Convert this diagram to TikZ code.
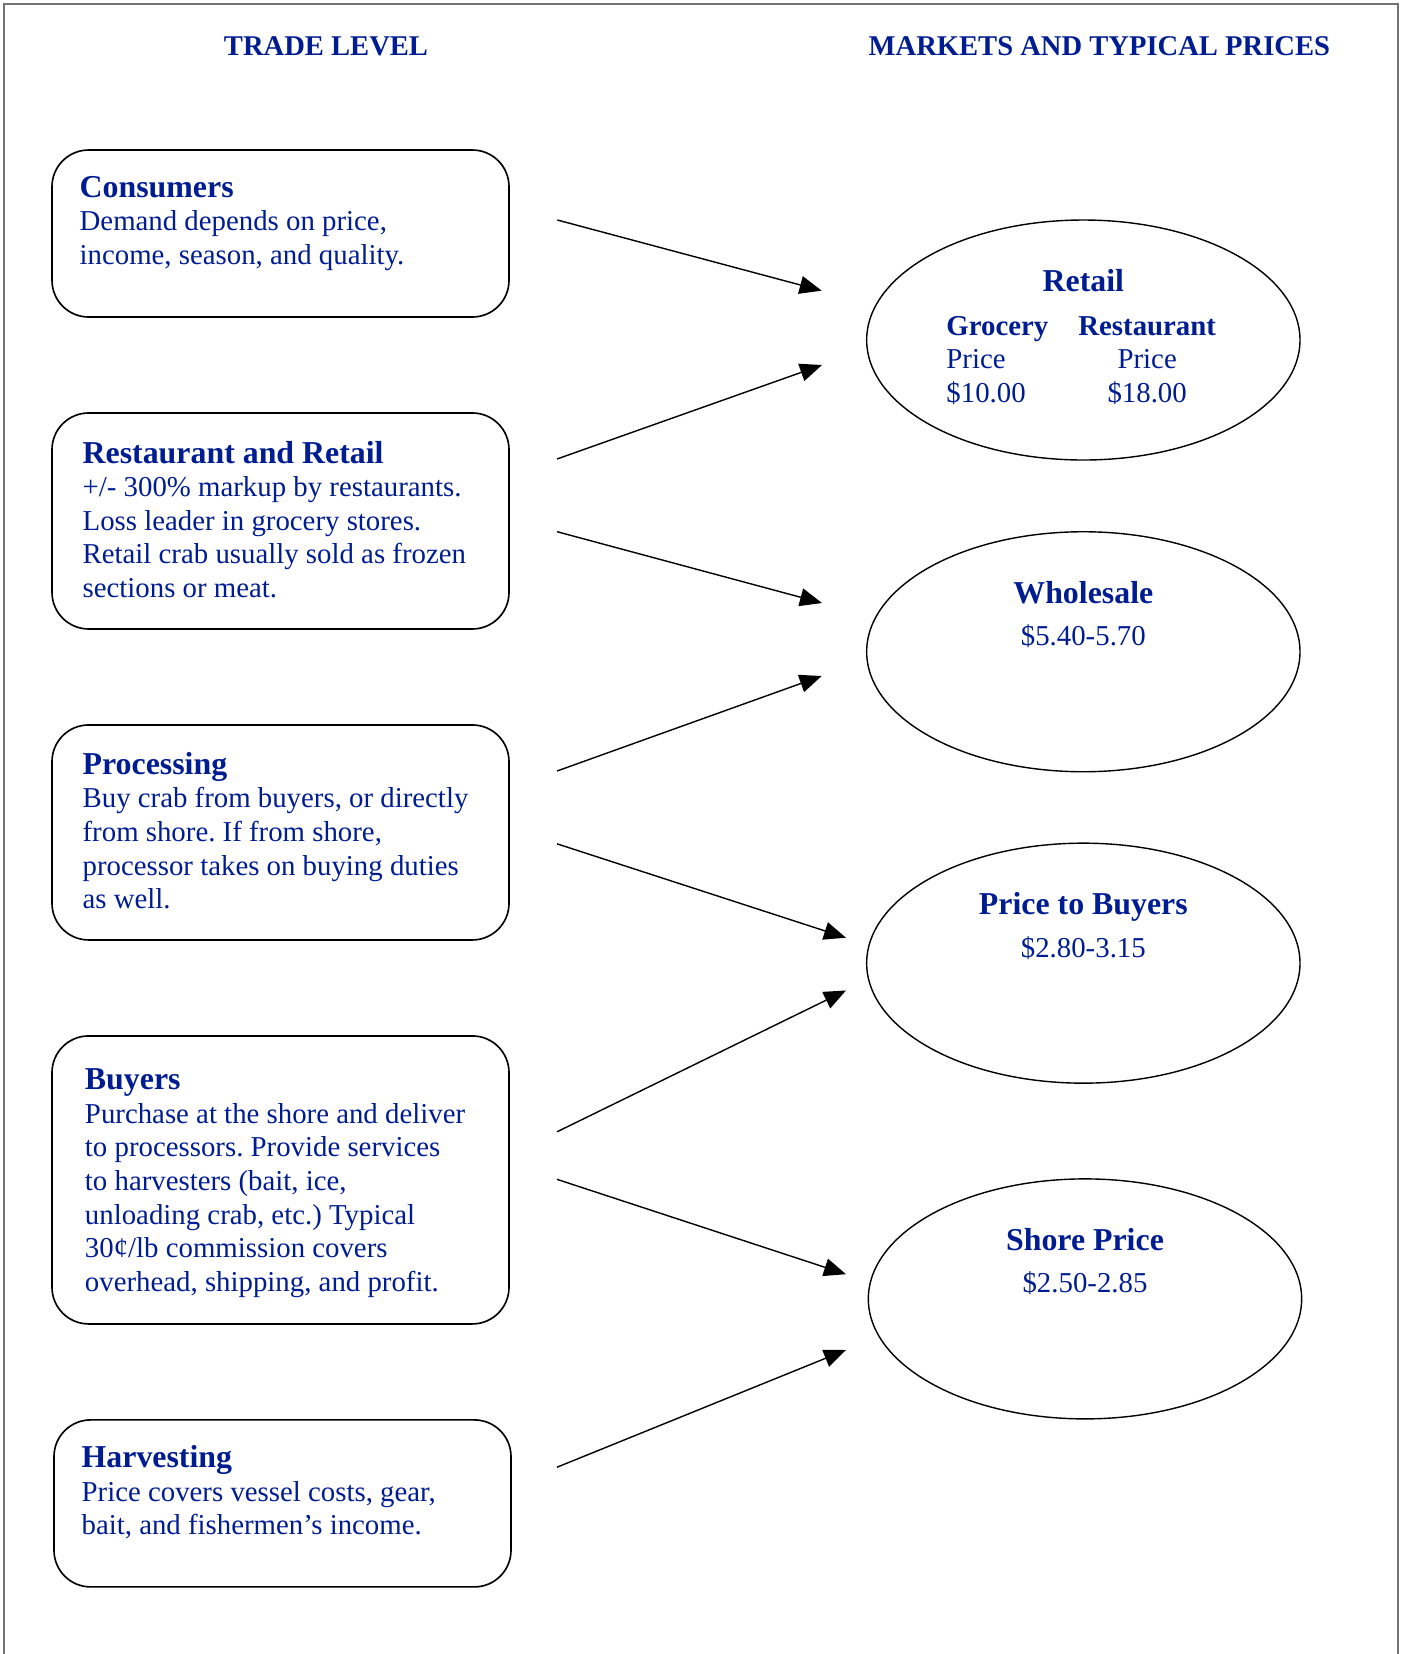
\documentclass[tikz,border=0pt]{standalone}
\usepackage{fontspec}
\setmainfont{Liberation Serif}
\usetikzlibrary{shapes.geometric, arrows.meta, positioning, calc}
\definecolor{cblue}{RGB}{0,28,145}
\definecolor{cframe}{gray}{0.45}
\newcommand{\hdfont}{\fontsize{13.6}{14.33}\selectfont\bfseries}
\frenchspacing

\begin{document}
\begin{tikzpicture}[
    every node/.style={font=\fontsize{12.3}{14.33}\selectfont},
    tbox/.style={draw, rounded corners=0.55cm, minimum width=6.855cm, line width=0.7pt},
    mkt/.style={draw, ellipse, minimum width=6.5cm, minimum height=3.6cm, line width=0.6pt},
    lbl/.style={inner sep=0pt, text=cblue},
    txt/.style={lbl, align=left},
    arr/.style={-{Triangle[length=0.33cm, width=0.27cm]}, line width=0.6pt}
]
\useasboundingbox (0,0) rectangle (21.06,-24.81);
\draw[cframe, line width=0.8pt] (0.06,-24.81) -- (0.06,-0.06) -- (20.97,-0.06) -- (20.97,-24.81);

%% Column titles
\node[lbl, font=\fontsize{12.2}{14.33}\selectfont\bfseries, anchor=base] (tlevel) at (4.89,-0.837) {TRADE LEVEL};
\node[lbl, font=\fontsize{12.2}{14.33}\selectfont\bfseries, anchor=base] (mprices) at (16.49,-0.837) {MARKETS AND TYPICAL PRICES};

%% Trade level boxes
\node[tbox, minimum height=2.505cm] (cons) at (4.2075,-3.5025) {};
\node[tbox, minimum height=3.24cm, below=1.415cm of cons] (rest) {};
\node[tbox, minimum height=3.225cm, below=1.415cm of rest] (proc) {};
\node[tbox, minimum height=4.32cm, below=1.415cm of proc] (buy) {};
\node[tbox, minimum height=2.505cm, below=1.415cm of buy, xshift=0.03cm] (harv) {};

\node[txt, below right=0.395cm and 0.42cm of cons.north west] (consT) {
    {\hdfont Consumers}\\
    Demand depends on price,\\
    income, season, and quality.
};
\node[txt, below right=0.425cm and 0.465cm of rest.north west] (restT) {
    {\hdfont Restaurant and Retail}\\
    +/- 300\% markup by restaurants.\\
    Loss leader in grocery stores.\\
    Retail crab usually sold as frozen\\
    sections or meat.
};
\node[txt, below right=0.415cm and 0.465cm of proc.north west] (procT) {
    {\hdfont Processing}\\
    Buy crab from buyers, or directly\\
    from shore. If from shore,\\
    processor takes on buying duties\\
    as well.
};
\node[txt, below right=0.5cm and 0.5cm of buy.north west] (buyT) {
    {\hdfont Buyers}\\
    Purchase at the shore and deliver\\
    to processors. Provide services\\
    to harvesters (bait, ice,\\
    unloading crab, etc.) Typical\\
    30¢/lb commission covers\\
    overhead, shipping, and profit.
};
\node[txt, below right=0.39cm and 0.42cm of harv.north west] (harvT) {
    {\hdfont Harvesting}\\
    Price covers vessel costs, gear,\\
    bait, and fishermen’s income.
};

%% Markets
\node[mkt] (retail) at (16.25,-5.1) {};
\node[mkt, below=1.055cm of retail] (wsale) {};
\node[mkt, below=1.05cm of wsale] (pbuy) {};
\node[mkt, below=1.415cm of pbuy, xshift=0.025cm] (shore) {};

\node[lbl, anchor=base] (retailT) at ($(retail.center)+(0,0.73)$) {\hdfont Retail};
\node[lbl, anchor=base west] (retailP) at ($(retail.center)+(-2.06,0.075)$) {%
    \begin{tabular}[t]{@{}l@{\hspace{0.45cm}}c@{}}
    \textbf{Grocery} & \textbf{Restaurant}\\
    Price & Price\\
    \$10.00 & \$18.00
    \end{tabular}};
\node[lbl, anchor=base] (wsaleT) at ($(wsale.center)+(0,0.73)$) {\hdfont Wholesale};
\node[lbl, anchor=base] (wsaleP) at ($(wsale.center)+(0,0.09)$) {\$5.40-5.70};
\node[lbl, anchor=base] (pbuyT) at ($(pbuy.center)+(0,0.73)$) {\hdfont Price to Buyers};
\node[lbl, anchor=base] (pbuyP) at ($(pbuy.center)+(0,0.09)$) {\$2.80-3.15};
\node[lbl, anchor=base] (shoreT) at ($(shore.center)+(0,0.73)$) {\hdfont Shore Price};
\node[lbl, anchor=base] (shoreP) at ($(shore.center)+(0,0.09)$) {\$2.50-2.85};

%% Arrow ends
\coordinate (s1) at (8.36,-3.30);   \coordinate (e1) at (12.325,-4.36);
\coordinate (s2) at (8.355,-6.885); \coordinate (e2) at (12.33,-5.475);
\coordinate (s3) at (8.355,-7.975); \coordinate (e3) at (12.33,-9.045);
\coordinate (s4) at (8.355,-11.565);\coordinate (e4) at (12.325,-10.14);
\coordinate (s5) at (8.355,-12.657);\coordinate (e5) at (12.69,-14.066);
\coordinate (s6) at (8.355,-16.977);\coordinate (e6) at (12.69,-14.857);
\coordinate (s7) at (8.355,-17.69); \coordinate (e7) at (12.69,-19.113);
\coordinate (s8) at (8.355,-22.008);\coordinate (e8) at (12.69,-20.25);

%% Arrows
\foreach \i in {1,...,8}
    \draw[arr] (s\i) -- (e\i);
\end{tikzpicture}
\end{document}
